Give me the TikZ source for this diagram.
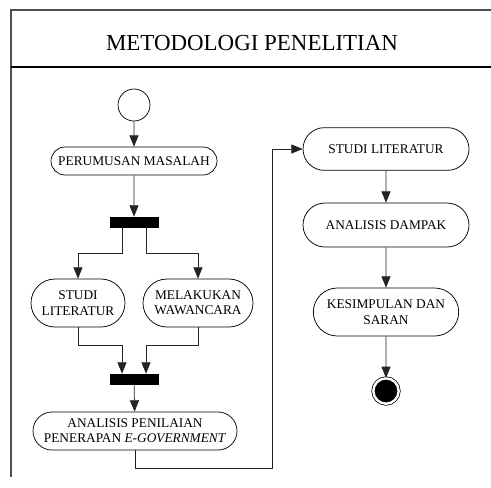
\documentclass[tikz,border=0pt]{standalone}
\usepackage{fontspec}
\setmainfont{Liberation Serif}
\usetikzlibrary{arrows.meta,shapes.misc}
\definecolor{line_gray}{RGB}{35,35,35}
\definecolor{frame_gray}{RGB}{80,80,80}

\begin{document}
\begin{tikzpicture}[x=0.75pt,y=-0.75pt,->,>={Triangle[length=8.5pt,width=6.8pt]},line_gray,line width=0.55pt]
    \tikzstyle{act}=[draw=black, rounded rectangle, inner sep=0pt, text=black, font=\fontsize{10}{11.5}\selectfont, align=center]
    \tikzstyle{bar}=[draw=black, fill=black, rectangle, inner sep=0pt, minimum width=36pt, minimum height=7.5pt]
    \tikzstyle{start}=[draw=black, circle, inner sep=0pt, minimum size=24pt]
    \tikzstyle{stop}=[draw=black, circle, double=white, double distance=1.8pt, fill=black, inner sep=0pt, minimum size=19pt]

    \useasboundingbox (0,0) rectangle (491,487);
    % frame
    \draw[-, frame_gray, line width=0.9pt] (11,477) -- (11,10) -- (491,10);
    \draw[-, black, line width=1.3pt] (11,67) -- (491,67);
    \node[text=black, font=\fontsize{17.2}{19}\selectfont] (title) at (252,43) {METODOLOGI PENELITIAN};

    \node[start]                                           (s)      at (134,105) {};
    \node[act, minimum width=124.5pt, minimum height=21pt] (rumus)  at (134,161) {PERUMUSAN MASALAH};
    \node[bar]                                             (fork)   at (134,222) {};
    \node[act, minimum width=70.5pt, minimum height=36pt]  (studia) at (78,303)  {STUDI\\LITERATUR};
    \node[act, minimum width=82.5pt, minimum height=36pt]  (wawan)  at (198,303) {MELAKUKAN\\WAWANCARA};
    \node[bar]                                             (join)   at (134,379) {};
    \node[act, minimum width=153pt, minimum height=28.5pt] (nilai)  at (135,431) {ANALISIS PENILAIAN\\PENERAPAN \textit{E-GOVERNMENT}};
    \coordinate                                            (bend)   at (272,468);
    \node[act, minimum width=124.5pt, minimum height=32pt] (studib) at (386,149) {STUDI LITERATUR};
    \node[act, minimum width=124.5pt, minimum height=33pt] (dampak) at (386,225) {ANALISIS DAMPAK};
    \node[act, minimum width=109pt, minimum height=36pt]   (simpul) at (386,312) {KESIMPULAN DAN\\SARAN};
    \node[stop]                                            (e)      at (386,391) {};

    \path
     (s) edge (rumus)
     (rumus) edge (fork)
     (join) edge (nilai)
     (studib) edge (dampak)
     (dampak) edge (simpul)
     (simpul) edge (e)
     ;
    \draw ([xshift=-9pt]fork.south) -- ++(0,26) -| (studia.north);
    \draw ([xshift=9pt]fork.south) -- ++(0,26) -| (wawan.north);
    \draw (studia.south) -- ++(0,18) -| ([xshift=-9pt]join.north);
    \draw (wawan.south) -- ++(0,18) -| ([xshift=9pt]join.north);
    \draw (nilai.south) |- (bend) |- (studib.west);
\end{tikzpicture}
\end{document}
